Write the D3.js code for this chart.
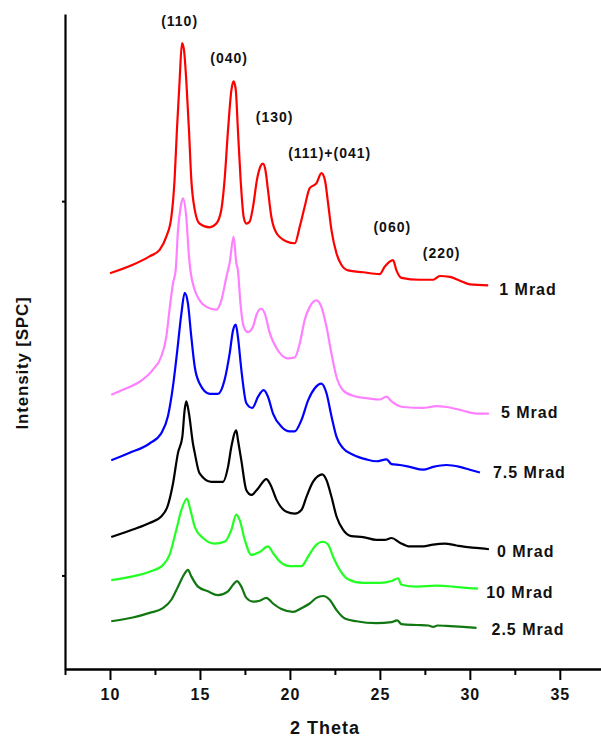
<!DOCTYPE html>
<html>
<head>
<meta charset="utf-8">
<script src="https://cdn.jsdelivr.net/npm/d3@7"></script>
<style>
  html, body { margin: 0; padding: 0; background: #ffffff; }
  svg { display: block; }
  text { font-family: "Liberation Sans", Arial, sans-serif; font-weight: bold; fill: #111; }
</style>
</head>
<body>
<svg id="chart" width="601" height="739"></svg>
<script>
// ---------------- DATA ----------------
const seriesNames = ["1 Mrad", "5 Mrad", "7.5 Mrad", "0 Mrad", "10 Mrad", "2.5 Mrad"];

const theta1 = [10.00,11.27,12.20,12.76,13.13,13.41,13.59,13.72,13.87,14.00,14.11,14.24,14.39,14.52,14.71,14.98,15.54,15.91,16.19,16.37,16.56,16.75,16.87,16.99,17.11,17.26,17.43,17.58,17.76,17.95,18.17,18.36,18.50,18.64,18.78,18.97,19.25,19.81,20.27,20.55,20.82,21.10,21.47,21.75,21.94,22.12,22.31,22.59,22.86,23.23,24.07,24.99,25.27,25.73,25.92,26.20,27.22,27.96,28.33,28.89,29.44,30.00,31.02];
const int1   = [4230,4320,4410,4480,4620,4830,5230,5760,6290,6690,6620,6290,5760,5230,4910,4760,4720,4760,4910,5230,5760,6190,6280,6190,5760,5230,4830,4760,4780,4940,5230,5370,5400,5330,5120,4830,4660,4570,4550,4730,4940,5140,5190,5300,5230,4980,4690,4440,4320,4260,4240,4220,4300,4370,4260,4180,4160,4160,4200,4190,4150,4110,4100];

const theta5 = [10.07,10.91,11.65,12.39,12.85,13.13,13.31,13.50,13.65,13.78,13.93,14.05,14.24,14.39,14.47,14.71,14.98,15.36,15.91,16.19,16.47,16.65,16.87,17.02,17.11,17.25,17.43,17.67,17.95,18.17,18.41,18.60,18.88,19.25,19.89,20.27,20.55,20.82,21.10,21.47,21.75,22.03,22.31,22.59,22.95,23.51,24.44,24.99,25.37,25.65,26.29,27.40,28.15,28.70,29.63,30.37,31.06];
const int5   = [2930,3000,3070,3200,3340,3550,3840,4120,4260,4690,4940,5030,4830,4410,4260,4050,3940,3870,3840,3940,4190,4340,4620,4340,4260,3910,3660,3600,3660,3800,3850,3800,3590,3430,3320,3330,3480,3730,3870,3940,3870,3660,3370,3120,2980,2920,2890,2880,2910,2860,2800,2790,2810,2800,2760,2730,2730];

const theta75 = [10.07,11.09,12.20,12.85,13.22,13.50,13.72,13.97,14.15,14.33,14.52,14.71,14.98,15.54,16.00,16.37,16.65,16.84,16.99,17.11,17.30,17.58,17.91,18.23,18.54,18.78,19.06,19.53,19.99,20.27,20.64,21.01,21.38,21.75,22.03,22.31,22.59,22.95,23.51,24.25,24.81,25.37,25.65,26.11,26.66,27.40,27.96,28.70,29.44,30.00,30.56];
const int75   = [2230,2310,2410,2520,2700,3020,3370,3800,4020,3910,3550,3230,3050,2940,2940,3090,3370,3620,3680,3550,3200,2840,2790,2910,2980,2910,2730,2590,2540,2540,2660,2870,3000,3050,2950,2700,2480,2360,2290,2240,2220,2240,2190,2180,2160,2130,2160,2180,2160,2130,2100];

const theta0 = [10.07,11.27,12.20,12.85,13.22,13.50,13.78,14.02,14.15,14.24,14.39,14.61,14.71,14.98,15.63,16.28,16.56,16.75,17.02,17.11,17.30,17.58,17.86,18.23,18.69,18.92,19.25,19.81,20.27,20.64,20.92,21.28,21.56,21.79,22.03,22.31,22.59,22.95,23.42,24.07,24.81,25.27,25.65,26.11,26.66,27.40,27.96,28.61,29.26,30.00,30.65,31.06];
const int0   = [1410,1490,1560,1630,1750,1980,2310,2480,2770,2860,2730,2410,2310,2090,2000,2000,2160,2380,2550,2450,2230,1910,1860,1930,2030,1970,1810,1680,1660,1700,1840,2000,2060,2080,2020,1840,1630,1490,1420,1410,1380,1380,1400,1350,1310,1310,1330,1340,1320,1300,1290,1280];

const theta10 = [10.07,11.27,12.20,12.94,13.31,13.69,13.97,14.28,14.47,14.71,15.17,15.82,16.37,16.75,17.02,17.21,17.49,17.86,18.32,18.78,19.06,19.43,19.99,20.64,21.01,21.38,21.84,22.12,22.40,22.77,23.23,24.07,24.99,25.65,26.01,26.20,27.04,28.15,29.07,29.63,30.46];
const int10   = [950,990,1040,1110,1220,1490,1700,1820,1700,1520,1400,1340,1360,1490,1650,1590,1380,1220,1250,1310,1240,1150,1100,1100,1200,1310,1360,1330,1200,1060,960,920,920,940,970,900,880,890,880,870,860];

const theta25 = [10.07,11.27,12.20,12.94,13.41,13.78,14.15,14.33,14.52,14.89,15.44,16.00,16.56,16.84,17.06,17.30,17.58,17.95,18.32,18.69,19.06,19.53,20.17,20.64,21.10,21.47,21.84,22.21,22.59,23.05,23.70,24.81,25.65,25.96,26.20,27.04,27.70,27.96,28.20,28.70,29.63,30.37];
const int25   = [510,550,600,650,740,880,1020,1060,990,880,830,790,830,900,940,880,760,720,730,760,700,640,610,650,700,760,780,740,630,540,510,490,500,520,480,470,465,450,465,460,450,440];

const peakLabels = ["(110)", "(040)", "(130)", "(111)+(041)", "(060)", "(220)"];
const peakTheta  = [13.87, 16.62, 19.15, 22.21, 25.69, 28.43];
const peakInt    = [6920, 6530, 5900, 5510, 4720, 4450];

const xTickValues      = [10, 15, 20, 25, 30, 35];
const xMinorTickValues = [7.5, 12.5, 17.5, 22.5, 27.5, 32.5, 37.5];
const yTickValues      = [1000, 5000];
const xTitle = "2 Theta";
const yTitle = "Intensity [SPC]";

// ---------------- STYLE ----------------
const seriesStyle = [
  { color: "#ff0000", dx: 11, dy: 4 },
  { color: "#ff80ff", dx: 12, dy: -1 },
  { color: "#0000ff", dx: 13, dy: 0 },
  { color: "#000000", dx: 8,  dy: 2 },
  { color: "#22ff22", dx: 8,  dy: 4 },
  { color: "#117711", dx: 15, dy: 2 }
];
const seriesData = [
  [theta1, int1], [theta5, int5], [theta75, int75],
  [theta0, int0], [theta10, int10], [theta25, int25]
];

// ---------------- CHART ----------------
const svg = d3.select("#chart");
const x = d3.scaleLinear().domain([7.5, 37.5]).range([65, 604.8]);
const y = d3.scaleLinear().domain([0, 7000]).range([669, 14]);

// axes
const xAxisMinor = d3.axisBottom(x).tickValues(xMinorTickValues).tickSize(6).tickSizeOuter(0).tickFormat("");
const xAxis = d3.axisBottom(x).tickValues(xTickValues).tickSize(11).tickSizeOuter(0).tickPadding(9);
const yAxis = d3.axisLeft(y).tickValues(yTickValues).tickSize(3).tickSizeOuter(0).tickFormat("");

const gxm = svg.append("g").attr("transform", "translate(0,669)").call(xAxisMinor);
const gx = svg.append("g").attr("transform", "translate(0,669)").call(xAxis);
const gy = svg.append("g").attr("transform", "translate(65,0)").call(yAxis);

[gxm, gx, gy].forEach(g => {
  g.selectAll(".domain").attr("stroke", "#000").attr("stroke-width", 2.2);
  g.selectAll(".tick line").attr("stroke", "#000").attr("stroke-width", 2);
});
gx.selectAll(".tick text")
  .attr("font-size", 16).attr("font-weight", "bold").attr("letter-spacing", 1)
  .attr("font-family", '"Liberation Sans", Arial, sans-serif').attr("fill", "#111");

// titles
svg.append("text").attr("x", 325).attr("y", 728).attr("dy", "0.35em")
  .attr("text-anchor", "middle").attr("font-size", 18).attr("letter-spacing", 1).text(xTitle);
svg.append("text").attr("transform", "translate(22,363) rotate(-90)").attr("dy", "0.35em")
  .attr("text-anchor", "middle").attr("font-size", 17).attr("letter-spacing", 0.8).text(yTitle);

// lines
const line = d3.line().x(d => x(d[0])).y(d => y(d[1])).curve(d3.curveMonotoneX);
seriesData.forEach((s, i) => {
  const pts = s[0].map((t, k) => [t, s[1][k]]);
  svg.append("path").datum(pts)
    .attr("fill", "none").attr("stroke", seriesStyle[i].color)
    .attr("stroke-width", 2.2).attr("stroke-linejoin", "round")
    .attr("d", line);
  const last = pts[pts.length - 1];
  svg.append("text")
    .attr("x", x(last[0]) + seriesStyle[i].dx)
    .attr("y", y(last[1]) + seriesStyle[i].dy)
    .attr("dy", "0.35em").attr("font-size", 16).attr("letter-spacing", 1)
    .text(seriesNames[i]);
});

// peak labels
peakLabels.forEach((lab, i) => {
  svg.append("text").attr("x", x(peakTheta[i])).attr("y", y(peakInt[i]))
    .attr("dy", "0.35em").attr("text-anchor", "middle")
    .attr("font-size", 14).attr("letter-spacing", 1).text(lab);
});
</script>
</body>
</html>
